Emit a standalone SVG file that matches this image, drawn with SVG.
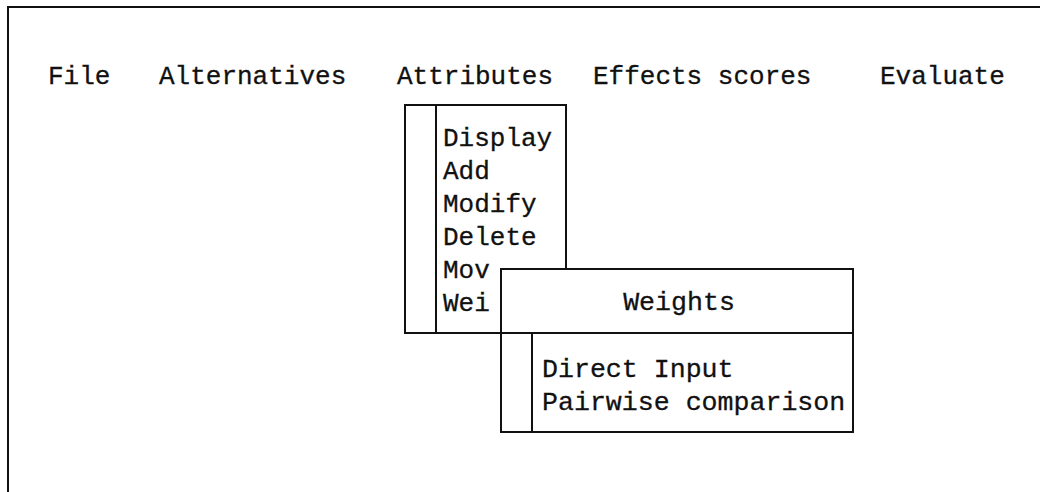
<svg xmlns="http://www.w3.org/2000/svg" width="1040" height="492" viewBox="0 0 1040 492">
  <style>
    .t { font-family: "Liberation Mono", "Courier New", monospace; font-size: 26px; fill: #111; stroke: #111; stroke-width: 0.3; }
    .sub { font-size: 26.6px; }
    .ln { stroke: #111; stroke-width: 2; fill: none; }
    .box { stroke: #111; stroke-width: 2; fill: #fff; }
  </style>
  <rect width="1040" height="492" fill="#fff"/>

  <!-- window frame: top and left edges -->
  <g id="frame">
    <path class="ln" d="M8,492 V7 H1040"/>
  </g>

  <!-- menu bar -->
  <g id="menubar">
    <text class="t" x="48" y="84">File</text>
    <text class="t" x="159" y="84">Alternatives</text>
    <text class="t" x="397" y="84">Attributes</text>
    <text class="t" x="593" y="84">Effects scores</text>
    <text class="t" x="880" y="84">Evaluate</text>
  </g>

  <!-- Attributes drop-down menu -->
  <g id="attributes-menu">
    <rect class="box" x="405" y="105" width="161" height="228"/>
    <line class="ln" x1="436" y1="105" x2="436" y2="333"/>
    <text class="t" x="443" y="146">Display</text>
    <text class="t" x="443" y="179">Add</text>
    <text class="t" x="443" y="212">Modify</text>
    <text class="t" x="443" y="245">Delete</text>
    <text class="t" x="443" y="278">Mov</text>
    <text class="t" x="443" y="311">Wei</text>
  </g>

  <!-- Weights sub-menu -->
  <g id="weights-menu">
    <rect class="box" x="501" y="269" width="352" height="163"/>
    <line class="ln" x1="501" y1="333" x2="853" y2="333"/>
    <line class="ln" x1="532" y1="333" x2="532" y2="432"/>
    <text class="t sub" x="679" y="310" text-anchor="middle">Weights</text>
    <text class="t sub" x="542" y="377">Direct Input</text>
    <text class="t sub" x="542" y="410">Pairwise comparison</text>
  </g>
</svg>
